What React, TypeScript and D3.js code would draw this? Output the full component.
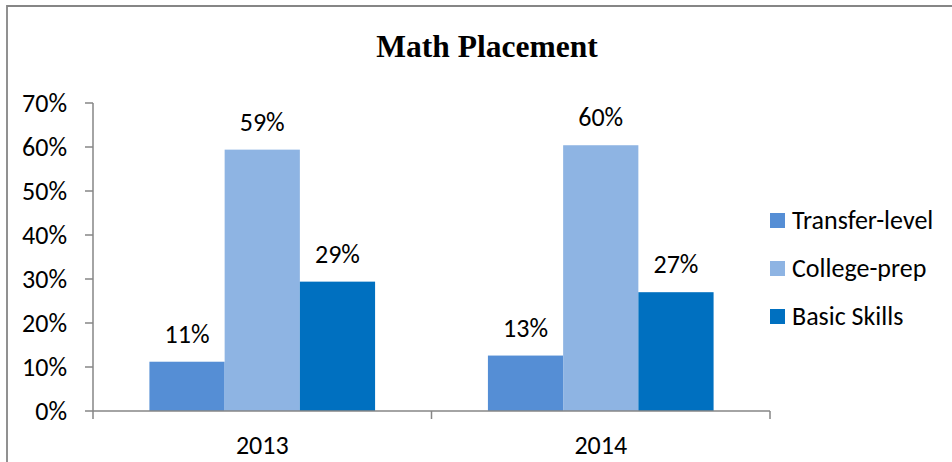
import React from "react";
import * as d3 from "d3";

const categories = ["2013", "2014"];
const seriesNames = ["Transfer-level", "College-prep", "Basic Skills"];
const transferLevel = [11.2, 12.6];
const collegePrep = [59.4, 60.4];
const basicSkills = [29.4, 27.0];
const yTicks = [0, 10, 20, 30, 40, 50, 60, 70];
const colors = ["#558ED5", "#8EB4E3", "#0070C0"];

const W = 952;
const H = 462;
const FONT = "Carlito, Lato, 'Open Sans', sans-serif";
const FS = 26;

export default function App() {
  const seriesValues = [transferLevel, collegePrep, basicSkills];
  const y = d3.scaleLinear().domain([0, 70]).range([411, 103]);
  const x0 = d3.scaleBand<string>().domain(categories).range([93, 770]).padding(0);
  const x1 = d3
    .scaleBand<string>()
    .domain(seriesNames)
    .range([0, x0.bandwidth()])
    .paddingInner(0)
    .paddingOuter(0.75);
  const axisColor = "#868686";
  const fmt = (v: number) => `${Math.round(v)}%`;

  const xTickPositions = [93, ...categories.map((c) => (x0(c) as number) + x0.bandwidth())];

  return (
    <svg
      width={W}
      height={H}
      style={{ position: "absolute", left: 0, top: 0, background: "#fff" }}
      fontFamily={FONT}
    >
      <rect x={0} y={0} width={W} height={H} fill="#fff" />
      {/* outer chart border */}
      <path d={`M7,${H + 5} L7,6 L${W + 5},6`} fill="none" stroke={axisColor} strokeWidth={1.8} />

      {/* title */}
      <text
        x={487}
        y={57}
        textAnchor="middle"
        fontFamily="'Liberation Serif', 'Times New Roman', serif"
        fontWeight="bold"
        fontSize={31.5}
        fill="#000"
      >
        Math Placement
      </text>

      {/* y axis */}
      <line x1={93} x2={93} y1={y(70)} y2={y(0)} stroke={axisColor} strokeWidth={1.5} />
      {yTicks.map((t) => (
        <g key={t}>
          <line x1={85} x2={93} y1={y(t)} y2={y(t)} stroke={axisColor} strokeWidth={1.5} />
          <text x={67} y={y(t) + 8.5} textAnchor="end" fontSize={FS} fill="#000">
            {t}%
          </text>
        </g>
      ))}

      {/* bars */}
      {categories.map((c, ci) => (
        <g key={c}>
          {seriesNames.map((s, si) => {
            const v = seriesValues[si][ci];
            const bx = (x0(c) as number) + (x1(s) as number);
            return (
              <g key={s}>
                <rect x={bx} y={y(v)} width={x1.bandwidth()} height={y(0) - y(v)} fill={colors[si]} />
                <text
                  x={bx + x1.bandwidth() / 2}
                  y={y(v) - 19}
                  textAnchor="middle"
                  fontSize={FS}
                  fill="#000"
                >
                  {fmt(v)}
                </text>
              </g>
            );
          })}
        </g>
      ))}

      {/* x axis */}
      <line x1={93} x2={770} y1={411} y2={411} stroke={axisColor} strokeWidth={1.5} />
      {xTickPositions.map((p, i) => (
        <line key={i} x1={p} x2={p} y1={411} y2={419} stroke={axisColor} strokeWidth={1.5} />
      ))}
      {categories.map((c) => (
        <text
          key={c}
          x={(x0(c) as number) + x0.bandwidth() / 2}
          y={454}
          textAnchor="middle"
          fontSize={FS}
          fill="#000"
        >
          {c}
        </text>
      ))}

      {/* legend */}
      {seriesNames.map((s, i) => (
        <g key={s}>
          <rect x={770} y={213 + i * 48} width={15} height={15} fill={colors[i]} />
          <text x={792} y={228.5 + i * 48} fontSize={FS} fill="#000">
            {s}
          </text>
        </g>
      ))}
    </svg>
  );
}
